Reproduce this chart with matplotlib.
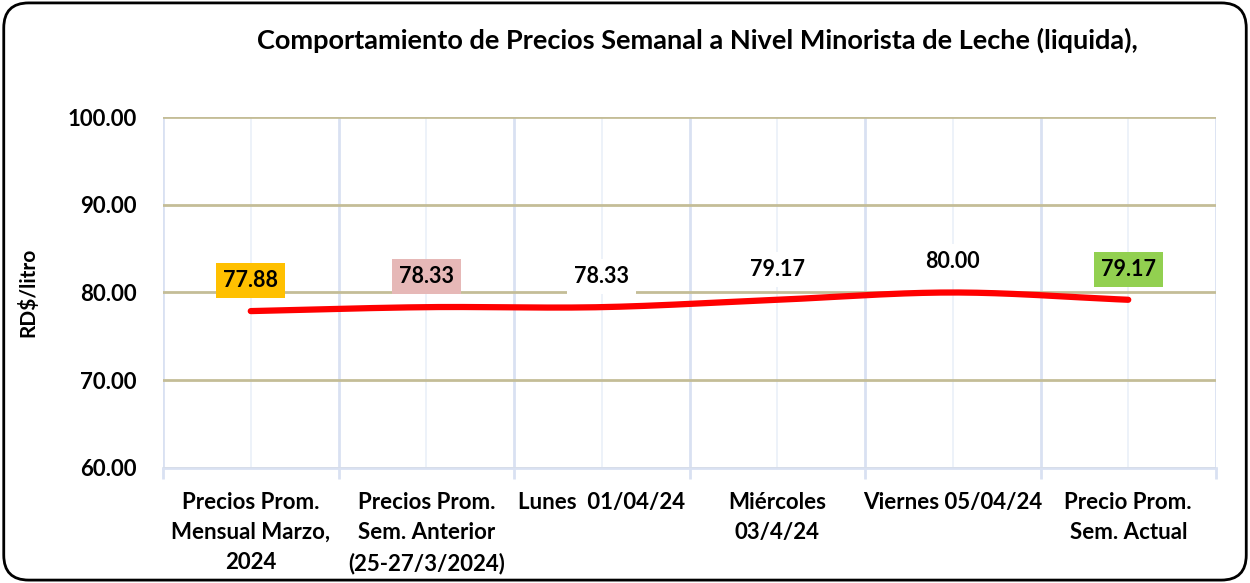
import numpy as np
import matplotlib
matplotlib.use("Agg")
import matplotlib.pyplot as plt
from matplotlib.patches import FancyBboxPatch

plt.rcParams['font.family'] = ['Lato', 'DejaVu Sans']

categories = [
    "Precios Prom.\nMensual Marzo,\n2024",
    "Precios Prom.\nSem. Anterior\n(25-27/3/2024)",
    "Lunes  01/04/24",
    "Miércoles\n03/4/24",
    "Viernes 05/04/24",
    "Precio Prom.\nSem. Actual",
]
precios = [77.88, 78.33, 78.33, 79.17, 80.00, 79.17]
etiquetas = ["77.88", "78.33", "78.33", "79.17", "80.00", "79.17"]
colores_caja = ["#FFC000", "#E6B8B7", "white", "white", "white", "#92D050"]
y_ticks = [60, 70, 80, 90, 100]


def suavizar(x, y, n=30):
    # curva tipo Catmull-Rom, parecida a la linea suavizada de Excel
    x = np.asarray(x, float)
    y = np.asarray(y, float)
    px = np.concatenate([[2 * x[0] - x[1]], x, [2 * x[-1] - x[-2]]])
    py = np.concatenate([[2 * y[0] - y[1]], y, [2 * y[-1] - y[-2]]])
    xs, ys = [], []
    t = np.linspace(0, 1, n)
    for i in range(1, len(px) - 2):
        for p, out in ((px, xs), (py, ys)):
            p0, p1, p2, p3 = p[i - 1], p[i], p[i + 1], p[i + 2]
            out.extend(0.5 * ((2 * p1) + (-p0 + p2) * t
                              + (2 * p0 - 5 * p1 + 4 * p2 - p3) * t ** 2
                              + (-p0 + 3 * p1 - 3 * p2 + p3) * t ** 3))
    return np.array(xs), np.array(ys)


fig = plt.figure(figsize=(12.5, 5.83), dpi=100)
ax = fig.add_axes([0.1304, 0.1973, 0.8424, 0.602])

x = np.arange(len(precios))
sx, sy = suavizar(x, precios)
ax.plot(sx, sy, color="#FF0000", lw=4.5, solid_capstyle="round", zorder=3)

for xi, yi, txt, c in zip(x, precios, etiquetas, colores_caja):
    ax.annotate(txt, (xi, yi), xytext=(0, 22), textcoords="offset points",
                ha="center", va="center", fontsize=15.5, fontweight="bold",
                bbox=dict(boxstyle="square,pad=0.33", fc=c, ec="none"),
                zorder=4)

ax.set_xlim(-0.5, len(precios) - 0.5)
ax.set_ylim(60, 100)
ax.set_yticks(y_ticks)
ax.set_yticklabels([f"{v:.2f}" for v in y_ticks], fontsize=16, fontweight="bold")
ax.set_xticks(np.arange(len(precios) + 1) - 0.5)
ax.set_xticklabels([])
ax.set_xticks(x, minor=True)
ax.set_xticklabels(categories, minor=True, fontsize=16, fontweight="bold",
                   linespacing=1.55, va="top")
ax.tick_params(axis="x", which="major", length=8, width=2, color="#D9E1F2")
ax.tick_params(axis="x", which="minor", length=0, pad=17)
ax.tick_params(axis="y", length=0, pad=19)

ax.grid(axis="y", color="#C4BD97", lw=2)
ax.grid(axis="x", which="major", color="#D9E1F2", lw=2)
ax.grid(axis="x", which="minor", color="#EAF0F8", lw=1.2)
for s in ["top", "right", "left"]:
    ax.spines[s].set_visible(False)
ax.spines["bottom"].set_color("#D9E1F2")
ax.spines["bottom"].set_linewidth(2)

ax.set_ylabel("RD$/litro", fontsize=15, fontweight="bold")
ax.yaxis.set_label_coords(-0.118, 0.5)

fig.text(0.558, 0.93, "Comportamiento de Precios Semanal a Nivel Minorista de Leche (liquida),",
         ha="center", va="center", fontsize=19.5, fontweight="bold")

borde = FancyBboxPatch((0.003, 0.005), 0.994, 0.99, boxstyle="round,pad=0,rounding_size=0.02",
                       transform=fig.transFigure, fc="none", ec="black", lw=2,
                       mutation_aspect=1250 / 583)
fig.patches.append(borde)

fig.savefig("out.png", dpi=100)
